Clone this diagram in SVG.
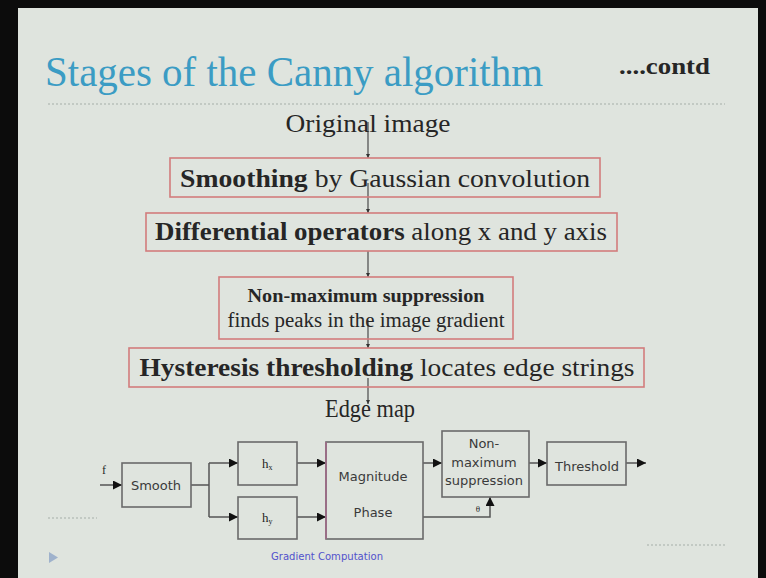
<svg xmlns="http://www.w3.org/2000/svg" width="766" height="578" viewBox="0 0 766 578">
<defs>
<style>
.serif{font-family:"Liberation Serif","DejaVu Serif",serif;fill:#262626}
.sans{font-family:"DejaVu Sans","Liberation Sans",sans-serif;fill:#3a3a3a;font-size:13px}
.stage{fill:none;stroke:#d27c7c;stroke-width:1.6}
.blk{fill:none;stroke:#6a6a6a;stroke-width:1.6}
.spine{stroke:#4a4a4a;stroke-width:1.2;fill:none}
.wire{stroke:#555;stroke-width:1.5;fill:none}
.dots{stroke:#b9c0bb;stroke-width:1.5;stroke-dasharray:2 2;fill:none}
</style>
<marker id="sm" viewBox="0 0 6 6" refX="6" refY="3" markerWidth="4" markerHeight="4" orient="auto" markerUnits="userSpaceOnUse">
<path d="M0,0 L6,3 L0,6 Z" fill="#333"/>
</marker>
<marker id="ar" viewBox="0 0 10 10" refX="10" refY="5" markerWidth="9" markerHeight="9" orient="auto" markerUnits="userSpaceOnUse">
<path d="M0,0 L10,5 L0,10 Z" fill="#111"/>
</marker>
</defs>

<!-- frame / background -->
<rect x="0" y="0" width="766" height="578" fill="#0c0c0c"/>
<rect x="18" y="8" width="740" height="570" fill="#dfe4de"/>

<!-- title -->
<text x="45" y="86" font-family="Liberation Serif, serif" font-size="42" fill="#3b9cc4" textLength="498" lengthAdjust="spacingAndGlyphs">Stages of the Canny algorithm</text>
<text x="619" y="74" class="serif" font-size="23" font-weight="bold" fill="#1a1a1a" textLength="91" lengthAdjust="spacingAndGlyphs">....contd</text>
<line x1="48" y1="104" x2="725" y2="104" class="dots"/>

<!-- connectors -->
<g id="connectors">
<line x1="368" y1="122" x2="368" y2="158" class="spine" marker-end="url(#sm)"/>
<line x1="368" y1="183" x2="368" y2="213" class="spine" marker-end="url(#sm)"/>
<line x1="368" y1="251" x2="368" y2="277" class="spine" marker-end="url(#sm)"/>
<line x1="368" y1="320" x2="368" y2="348" class="spine" marker-end="url(#sm)"/>
<line x1="368" y1="378" x2="368" y2="404" class="spine" marker-end="url(#sm)"/>

<line x1="100" y1="485" x2="122" y2="485" class="wire" marker-end="url(#ar)"/>
<polyline points="191,485 209,485" class="wire"/>
<polyline points="209,463 209,517" class="wire"/>
<line x1="209" y1="463" x2="238" y2="463" class="wire" marker-end="url(#ar)"/>
<line x1="209" y1="517" x2="238" y2="517" class="wire" marker-end="url(#ar)"/>
<line x1="297" y1="463" x2="326" y2="463" class="wire" marker-end="url(#ar)"/>
<line x1="297" y1="517" x2="326" y2="517" class="wire" marker-end="url(#ar)"/>
<line x1="423" y1="463" x2="442" y2="463" class="wire" marker-end="url(#ar)"/>
<polyline points="423,517 490,517 490,497" class="wire" marker-end="url(#ar)"/>
<line x1="529" y1="463" x2="547" y2="463" class="wire" marker-end="url(#ar)"/>
<line x1="626" y1="463" x2="646" y2="463" class="wire" marker-end="url(#ar)"/>
</g>

<!-- stage nodes -->
<g id="original">
<text x="368" y="132" class="serif" font-size="25" text-anchor="middle" textLength="165" lengthAdjust="spacingAndGlyphs">Original image</text>
</g>
<g id="smoothing">
<rect x="170" y="158" width="430" height="39" class="stage"/>
<text x="385" y="187" class="serif" font-size="25" text-anchor="middle" textLength="410" lengthAdjust="spacingAndGlyphs"><tspan font-weight="bold">Smoothing</tspan> by Gaussian convolution</text>
</g>
<g id="differential">
<rect x="146" y="213" width="471" height="38" class="stage"/>
<text x="381" y="240" class="serif" font-size="25" text-anchor="middle" textLength="452" lengthAdjust="spacingAndGlyphs"><tspan font-weight="bold">Differential operators</tspan> along x and y axis</text>
</g>
<g id="nonmax">
<rect x="219" y="277" width="294" height="62" class="stage"/>
<text x="366" y="302" class="serif" font-size="19" font-weight="bold" text-anchor="middle" textLength="237" lengthAdjust="spacingAndGlyphs">Non-maximum suppression</text>
<text x="366" y="327" class="serif" font-size="20" text-anchor="middle" textLength="277" lengthAdjust="spacingAndGlyphs">finds peaks in the image gradient</text>
</g>
<g id="hysteresis">
<rect x="129" y="348" width="515" height="39" class="stage"/>
<text x="387" y="376" class="serif" font-size="25" text-anchor="middle" textLength="495" lengthAdjust="spacingAndGlyphs"><tspan font-weight="bold">Hysteresis thresholding</tspan> locates edge strings</text>
</g>
<g id="edgemap">
<text x="370" y="417" class="serif" font-size="25" text-anchor="middle" textLength="90" lengthAdjust="spacingAndGlyphs">Edge map</text>
</g>

<!-- block diagram nodes -->
<g id="f-input">
<text x="102" y="474" class="serif" font-size="12">f</text>
</g>
<g id="smooth">
<rect x="122" y="463" width="69" height="44" class="blk"/>
<text x="156" y="490" class="sans" text-anchor="middle">Smooth</text>
</g>
<g id="hx">
<rect x="238" y="442" width="59" height="43" class="blk"/>
<text x="262" y="468" class="serif" font-size="13" fill="#444">h<tspan font-size="8" dy="2">x</tspan></text>
</g>
<g id="hy">
<rect x="238" y="497" width="59" height="42" class="blk"/>
<text x="262" y="522" class="serif" font-size="13" fill="#444">h<tspan font-size="8" dy="2">y</tspan></text>
</g>
<g id="magphase">
<rect x="326" y="442" width="97" height="97" class="blk"/>
<line x1="326" y1="442" x2="326" y2="539" stroke="#a06a88" stroke-width="1.6"/>
<text x="373" y="481" class="sans" text-anchor="middle">Magnitude</text>
<text x="373" y="517" class="sans" text-anchor="middle">Phase</text>
</g>
<g id="theta">
<text x="478" y="512" class="serif" font-size="9" fill="#444" text-anchor="middle">θ</text>
</g>
<g id="nms">
<rect x="442" y="431" width="87" height="66" class="blk"/>
<text x="484" y="448" class="sans" text-anchor="middle">Non-</text>
<text x="484" y="467" class="sans" text-anchor="middle">maximum</text>
<text x="484" y="485" class="sans" text-anchor="middle">suppression</text>
</g>
<g id="threshold">
<rect x="547" y="442" width="79" height="43" class="blk"/>
<text x="587" y="471" class="sans" text-anchor="middle">Threshold</text>
</g>
<g id="gradlabel">
<text x="327" y="560" font-family="DejaVu Sans, sans-serif" font-size="10" fill="#5252cc" text-anchor="middle" textLength="112" lengthAdjust="spacingAndGlyphs">Gradient Computation</text>
</g>

<!-- slide decorations -->
<line x1="48" y1="518" x2="97" y2="518" class="dots"/>
<line x1="647" y1="545" x2="725" y2="545" class="dots"/>
<path d="M49,552 L58,557.5 L49,563 Z" fill="#9fb2cc"/>
</svg>
